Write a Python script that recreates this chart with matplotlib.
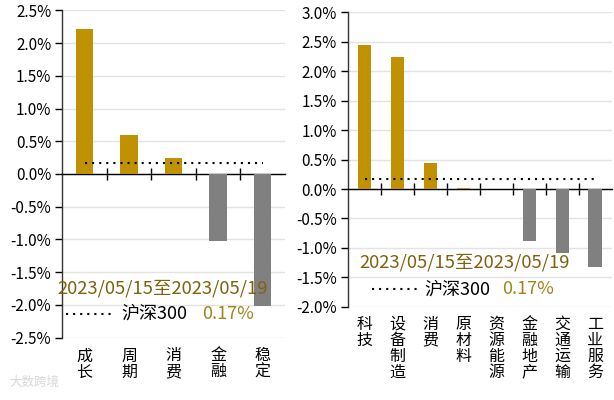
import matplotlib.pyplot as plt
import numpy as np
from matplotlib.ticker import FixedLocator, FuncFormatter

plt.rcParams['font.family'] = ['Noto Sans CJK SC', 'DejaVu Sans']

# left panel: style groups
style_names = ["成长", "周期", "消费", "金融", "稳定"]
style_values = [2.22, 0.60, 0.25, -1.03, -2.02]

# right panel: sectors
sector_names = ["科技", "设备制造", "消费", "原材料", "资源能源", "金融地产", "交通运输", "工业服务"]
sector_values = [2.44, 2.24, 0.45, 0.01, 0.0, -0.89, -1.08, -1.33]

hs300 = 0.17
date_text = "2023/05/15至2023/05/19"
left_yticks = [2.5, 2.0, 1.5, 1.0, 0.5, 0.0, -0.5, -1.0, -1.5, -2.0, -2.5]
right_yticks = [3.0, 2.5, 2.0, 1.5, 1.0, 0.5, 0.0, -0.5, -1.0, -1.5, -2.0]

GOLD = "#C09100"
GRAY = "#808080"
TXT_GOLD = "#7F620E"
TXT_GOLD2 = "#A08418"


def draw_panel(ax, names, values, yticks, bar_w, legend_pos):
    n = len(names)
    x = np.arange(n)
    colors = [GOLD if v >= 0 else GRAY for v in values]
    ax.bar(x, values, width=bar_w, color=colors, zorder=3)
    ax.hlines(hs300, 0, n - 1, colors="black", linestyles=(0, (1, 2.4)),
              linewidth=1.5, zorder=4)

    ax.set_xlim(-0.5, n - 0.5)
    ax.set_ylim(min(yticks), max(yticks))
    ax.yaxis.set_major_locator(FixedLocator(yticks))
    ax.yaxis.set_major_formatter(FuncFormatter(lambda v, p: f"{v:.1f}%"))
    ax.grid(axis="y", color="#e3e3e3", linewidth=1.0, zorder=0)

    for s in ["top", "right"]:
        ax.spines[s].set_visible(False)
    ax.spines["bottom"].set_position(("data", 0))
    ax.spines["bottom"].set_linewidth(1.0)
    ax.spines["left"].set_linewidth(1.0)
    ax.spines["left"].set_color("#333333")

    ax.set_xticks(x)
    ax.set_xticklabels([])
    ax.tick_params(axis="x", which="major", length=0)
    ax.xaxis.set_minor_locator(FixedLocator(np.arange(0.5, n - 1, 1.0)))
    ax.tick_params(axis="x", which="minor", length=8, width=1, direction="inout")
    ax.tick_params(axis="y", length=5, width=1, labelsize=11, pad=3)

    trans = ax.get_xaxis_transform()
    for i, name in enumerate(names):
        ax.text(i, -0.03, "\n".join(name), transform=trans, ha="center", va="top",
                fontsize=11.5, linespacing=0.92)

    dx, dy1, dy2, lx0, lx1, tx1, tx2 = legend_pos
    ax.text(dx, dy1, date_text, transform=ax.transAxes, fontsize=13.3,
            color=TXT_GOLD, va="center", ha="left", zorder=5)
    ax.plot([lx0, lx1], [dy2, dy2], transform=ax.transAxes, color="black",
            linestyle=(0, (1, 2.4)), linewidth=1.5, clip_on=False, zorder=5)
    ax.text(tx1, dy2, "沪深300", transform=ax.transAxes, fontsize=13,
            color="black", va="center", ha="left", zorder=5)
    ax.text(tx2, dy2, f"{hs300:.2f}%", transform=ax.transAxes, fontsize=13,
            color=TXT_GOLD2, va="center", ha="left", zorder=5)


fig = plt.figure(figsize=(6.14, 4.0), dpi=100)
ax1 = fig.add_axes([0.1015, 0.156, 0.3625, 0.818])
ax2 = fig.add_axes([0.567, 0.233, 0.429, 0.736])

draw_panel(ax1, style_names, style_values, left_yticks, 0.39,
           (-0.024, 0.149, 0.072, 0.017, 0.228, 0.264, 0.627))
draw_panel(ax2, sector_names, sector_values, right_yticks, 0.4,
           (0.041, 0.149, 0.060, 0.09, 0.26, 0.29, 0.583))

fig.text(0.015, 0.045, "大数跨境", fontsize=9, color="#d8d8d8", ha="left", va="center")

fig.savefig("out.png", dpi=100)
